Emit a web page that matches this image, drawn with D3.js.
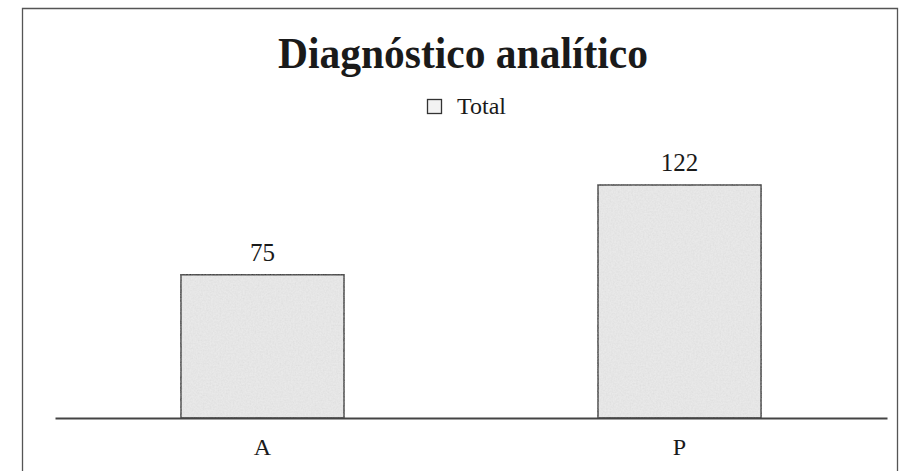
<!DOCTYPE html>
<html>
<head>
<meta charset="utf-8">
<script src="https://cdn.jsdelivr.net/npm/d3@7/dist/d3.min.js"></script>
<style>
  html, body { margin: 0; padding: 0; background: #ffffff; }
  svg { display: block; }
  text { font-family: "Liberation Serif", "Times New Roman", serif; fill: #1a1a1a; }
</style>
</head>
<body>
<svg id="chart" width="905" height="471"></svg>
<script>
// Chart data
const title = "Diagnóstico analítico";
const seriesName = "Total";
const categories = ["A", "P"];
const totals = [75, 122];

const svg = d3.select("#chart");
const W = 905, H = 471;

// Texture for the bar fill (speckled light grey)
const defs = svg.append("defs");
const filt = defs.append("filter").attr("id", "grain")
  .attr("x", 0).attr("y", 0).attr("width", 1).attr("height", 1);
filt.append("feTurbulence").attr("type", "fractalNoise")
  .attr("baseFrequency", 0.6).attr("numOctaves", 2).attr("seed", 4).attr("result", "noise");
filt.append("feColorMatrix").attr("in", "noise").attr("type", "matrix")
  .attr("values", "0 0 0 0 0.55  0 0 0 0 0.55  0 0 0 0 0.55  0 0 0 0.45 -0.12")
  .attr("result", "specks");
filt.append("feComposite").attr("in", "specks").attr("in2", "SourceGraphic").attr("operator", "in").attr("result", "sp");
filt.append("feMerge").call(m => {
  m.append("feMergeNode").attr("in", "SourceGraphic");
  m.append("feMergeNode").attr("in", "sp");
});

// Outer frame
svg.append("path")
  .attr("d", `M22.5,${H} L22.5,8.5 L897.5,8.5 L897.5,${H}`)
  .attr("fill", "none").attr("stroke", "#555").attr("stroke-width", 1.3);

// Scales
const baseY = 418;
const x = d3.scaleBand().domain(categories).range([55, 887])
  .paddingInner(0.609).paddingOuter(0.302);
const y = d3.scaleLinear().domain([0, 140]).range([baseY, baseY - 267.4]);

// Title
svg.append("text")
  .attr("x", 463).attr("y", 68)
  .attr("text-anchor", "middle")
  .attr("font-size", 44)
  .attr("font-weight", "bold")
  .attr("textLength", 370).attr("lengthAdjust", "spacingAndGlyphs")
  .text(title);

// Legend
svg.append("rect")
  .attr("x", 427.5).attr("y", 99.5).attr("width", 14).attr("height", 14)
  .attr("fill", "#f2f2f2").attr("stroke", "#333").attr("stroke-width", 1.3);
svg.append("text")
  .attr("x", 457).attr("y", 114)
  .attr("font-size", 24)
  .text(seriesName);

// Bars
const bars = svg.append("g");
bars.selectAll("rect")
  .data(totals)
  .join("rect")
  .attr("x", (d, i) => x(categories[i]))
  .attr("y", d => y(d))
  .attr("width", x.bandwidth())
  .attr("height", d => baseY - y(d))
  .attr("fill", "#e9e9e9")
  .attr("stroke", "#3a3a3a")
  .attr("stroke-width", 1.5)
  .attr("filter", "url(#grain)");

// Value labels
svg.append("g").selectAll("text")
  .data(totals)
  .join("text")
  .attr("x", (d, i) => x(categories[i]) + x.bandwidth() / 2)
  .attr("y", d => y(d) - 14)
  .attr("text-anchor", "middle")
  .attr("font-size", 25)
  .text(d => d);

// Category axis (baseline without ticks)
const axis = svg.append("g")
  .attr("transform", `translate(0,${baseY})`)
  .call(d3.axisBottom(x).tickSize(0).tickPadding(20));
axis.select(".domain").attr("stroke", "#444").attr("stroke-width", 2);
axis.selectAll(".tick text")
  .attr("font-family", "Liberation Serif, Times New Roman, serif")
  .attr("font-size", 24)
  .attr("fill", "#1a1a1a");
</script>
</body>
</html>
